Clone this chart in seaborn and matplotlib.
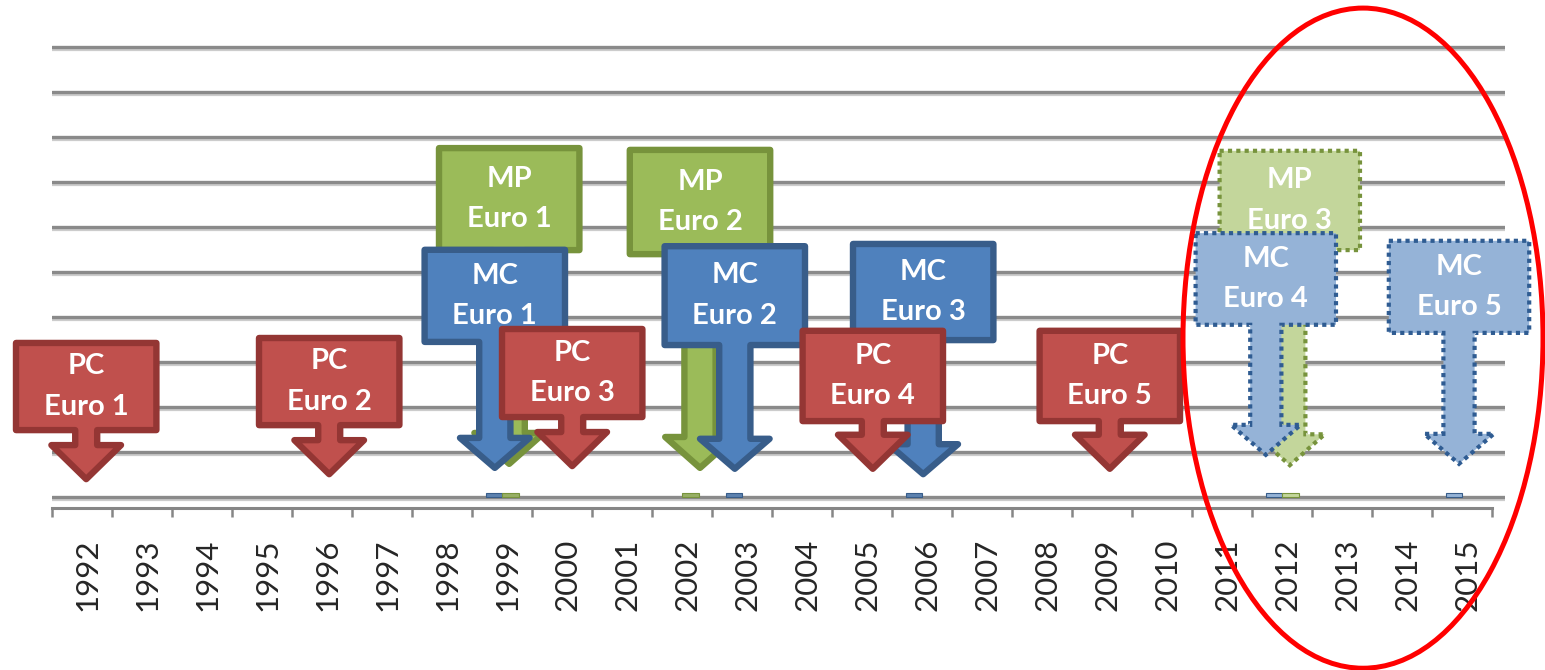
import matplotlib
matplotlib.use("Agg")
import matplotlib.pyplot as plt
from matplotlib.patches import Polygon, Ellipse
from matplotlib.transforms import ScaledTranslation
import seaborn as sns

# ------------------------------------------
# data
# ------------------------------------------
years = ['1992', '1993', '1994', '1995', '1996', '1997', '1998', '1999',
         '2000', '2001', '2002', '2003', '2004', '2005', '2006', '2007',
         '2008', '2009', '2010', '2011', '2012', '2013', '2014', '2015']

# tiny floor bars (the chart's own series)
bar_years  = ['1999', '1999', '2002', '2003', '2006', '2012', '2012', '2015']
bar_series = ['MC', 'MP', 'MP', 'MC', 'MC', 'MC', 'MP', 'MC']
bar_values = [0.1, 0.1, 0.1, 0.1, 0.1, 0.1, 0.1, 0.1]

# callout events
ev_series = ['PC', 'PC', 'MP', 'MC', 'PC', 'MP', 'MC', 'MC', 'PC', 'PC', 'MP', 'MC', 'MC']
ev_stage  = ['Euro 1', 'Euro 2', 'Euro 1', 'Euro 1', 'Euro 3', 'Euro 2', 'Euro 2',
             'Euro 3', 'Euro 4', 'Euro 5', 'Euro 3', 'Euro 4', 'Euro 5']
ev_year   = ['1992', '1996', '1999', '1999', '2000', '2002', '2003',
             '2006', '2005', '2009', '2012', '2012', '2015']
ev_planned = [False, False, False, False, False, False, False,
              False, False, False, True, True, True]

# callout placement (layout, not data)
ev_nudge   = [0.07, 0.12, 0.12, -0.12, 0.17, 0.30, -0.12, 0.02, 0.18, 0.13, 0.13, -0.27, -0.05]
box_top    = [3.49, 3.60, 7.82, 5.56, 3.80, 7.78, 5.64, 5.69, 3.76, 3.76, 7.76, 5.93, 5.76]
box_bottom = [1.42, 1.53, 5.42, 3.38, 1.71, 5.33, 3.31, 3.42, 1.62, 1.62, 5.42, 3.76, 3.58]
tip_y      = [0.33, 0.44, 0.67, 0.58, 0.62, 0.58, 0.56, 0.44, 0.56, 0.56, 0.64, 0.87, 0.67]

# ------------------------------------------
# styles
# ------------------------------------------
FILL = {'PC': '#C0504D', 'MC': '#4F81BD', 'MP': '#9BBB59'}
EDGE = {'PC': '#943634', 'MC': '#385D8A', 'MP': '#77933C'}
FILL_PLAN = {'MC': '#95B3D7', 'MP': '#C3D69B'}
EDGE_PLAN = {'MC': '#2F5C92', 'MP': '#77933C'}
ZBASE = {'MP': 3, 'MC': 5, 'PC': 7}
STEM = {'PC': 0.233, 'MC': 0.31, 'MP': 0.31}
HEAD_H = {'PC': 0.89, 'MC': 0.80, 'MP': 0.82}
HEAD_W = 0.63
BOX_W = 1.22

sns.set_style("white")
plt.rcParams['font.family'] = ['Lato', 'DejaVu Sans']

W, H = 1545, 670
fig = plt.figure(figsize=(W / 100, H / 100), dpi=100)
ax = fig.add_axes([52 / W, (H - 508) / H, (1505 - 52) / W, (508 - 40) / H])

sns.barplot(x=bar_years, y=bar_values, hue=bar_series, order=years,
            hue_order=['MC', 'MP'], palette=FILL, width=0.55,
            errorbar=None, legend=False, ax=ax, zorder=2)
for bar in ax.patches:
    name = 'MC' if bar.get_facecolor()[2] > 0.6 else 'MP'
    if bar.get_x() + bar.get_width() / 2 > 19.5:
        bar.set_facecolor(FILL_PLAN[name])
    bar.set_edgecolor(EDGE[name])
    bar.set_linewidth(0.8)

ax.set_xlim(-0.5, -0.5 + (1505 - 52) / 60)
ax.set_ylim((497 - 508) / 45, (497 - 40) / 45)

# grid
ax.set_yticks(range(11))
ax.set_yticklabels([])
ax.tick_params(axis='y', length=0)
ax.yaxis.grid(True, color='#8a8a8a', lw=2.4)
ax.hlines([v - 0.065 for v in range(11)], -0.5, 23.72, color='#cccccc', lw=1.6, zorder=0.5)
ax.set_axisbelow(True)

# x axis
sns.despine(ax=ax, left=True)
ax.spines['bottom'].set_bounds(-0.5, 23.5)
ax.spines['bottom'].set_color('#868686')
ax.spines['bottom'].set_linewidth(2.2)
ax.set_xticks(range(len(years)))
ax.set_xticklabels(years, rotation=90, fontsize=22.5)
ax.set_xticks([i - 0.5 for i in range(len(years) + 1)], minor=True)
ax.tick_params(axis='x', which='major', bottom=True, length=0, pad=22)
ax.tick_params(axis='x', which='minor', bottom=True, length=6.5, width=1.8,
               color='#868686', direction='out')
shift = ScaledTranslation(0.05, 0, fig.dpi_scale_trans)
for lab in ax.get_xticklabels():
    lab.set_transform(lab.get_transform() + shift)
ax.set_xlabel('')
ax.set_ylabel('')

# callouts
dx, dy = 3 / 60, 3 / 45
for s, st, yr, plan, nd, top, bot, tip in zip(ev_series, ev_stage, ev_year, ev_planned,
                                              ev_nudge, box_top, box_bottom, tip_y):
    cx = years.index(yr) + nd
    sw, hh = STEM[s], HEAD_H[s]
    base = tip + hh
    verts = [
        (cx - BOX_W + dx, top - dy), (cx + BOX_W - dx, top - dy),
        (cx + BOX_W - dx, bot + dy), (cx + sw - dx, bot + dy),
        (cx + sw - dx, base - dy), (cx + HEAD_W - dx, base - dy),
        (cx, tip + dy),
        (cx - HEAD_W + dx, base - dy), (cx - sw + dx, base - dy),
        (cx - sw + dx, bot + dy), (cx - BOX_W + dx, bot + dy),
    ]
    if plan:
        poly = Polygon(verts, closed=True, facecolor=FILL_PLAN[s], edgecolor=EDGE_PLAN[s],
                       lw=3.0, linestyle=(0, (1, 1)), capstyle='butt', joinstyle='miter',
                       zorder=ZBASE[s], clip_on=False)
    else:
        poly = Polygon(verts, closed=True, facecolor=FILL[s], edgecolor=EDGE[s],
                       lw=4.6, joinstyle='round', zorder=ZBASE[s], clip_on=False)
    ax.add_patch(poly)
    mid = (top + bot) / 2
    ax.text(cx, mid + 0.45, s, ha='center', va='center', color='white', fontsize=21,
            fontweight='bold', zorder=ZBASE[s] + 0.5, clip_on=False)
    ax.text(cx, mid - 0.45, st, ha='center', va='center', color='white', fontsize=21,
            fontweight='bold', zorder=ZBASE[s] + 0.5, clip_on=False)

# red highlight ellipse around the planned stages
ax.add_patch(Ellipse((21.35, 3.53), 6.0, 14.67, fill=False, edgecolor='#FF0000',
                     lw=3.6, zorder=10, clip_on=False))

fig.savefig('out.png', dpi=100)
